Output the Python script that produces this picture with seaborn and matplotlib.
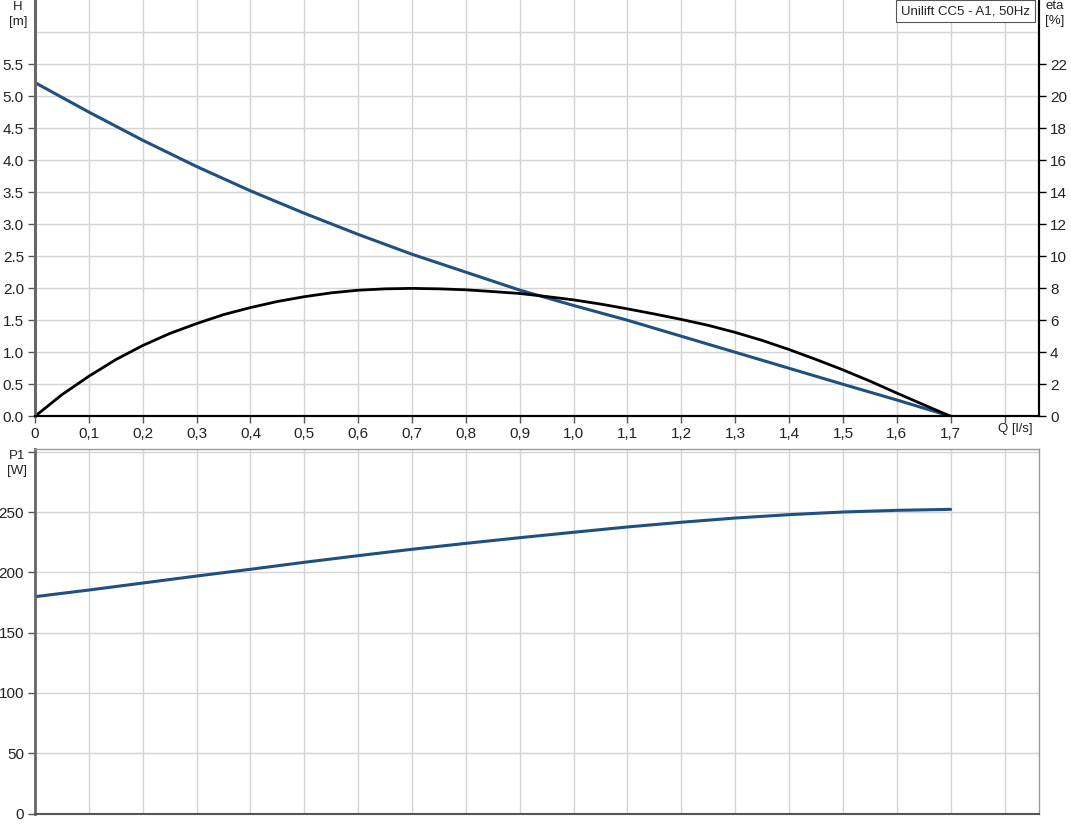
import numpy as np
import pandas as pd
import matplotlib.pyplot as plt
import matplotlib.transforms as mtrans
import seaborn as sns

# flow steps [l/s]
q = [0.0, 0.1, 0.2, 0.3, 0.4, 0.5, 0.6, 0.7, 0.8, 0.9,
     1.0, 1.1, 1.2, 1.3, 1.4, 1.5, 1.6, 1.7]
# head [m]
head = [5.21, 4.75, 4.31, 3.90, 3.52, 3.17, 2.84, 2.53, 2.25, 1.97,
        1.73, 1.50, 1.25, 1.00, 0.75, 0.50, 0.255, 0.0]
# efficiency [%], read every 0.05 l/s
q_eta = [0.0, 0.05, 0.1, 0.15, 0.2, 0.25, 0.3, 0.35, 0.4, 0.45, 0.5, 0.55,
         0.6, 0.65, 0.7, 0.75, 0.8, 0.85, 0.9, 0.95, 1.0, 1.05, 1.1, 1.15,
         1.2, 1.25, 1.3, 1.35, 1.4, 1.45, 1.5, 1.55, 1.6, 1.65, 1.7]
eta = [0.0, 1.35, 2.5, 3.54, 4.42, 5.17, 5.79, 6.35, 6.79, 7.17, 7.47, 7.71,
       7.875, 7.96, 7.99, 7.96, 7.9, 7.79, 7.67, 7.48, 7.27, 7.01, 6.71, 6.39,
       6.05, 5.68, 5.24, 4.74, 4.17, 3.55, 2.9, 2.2, 1.45, 0.72, 0.0]
# power P1 [W]
p1 = [179.8, 185.3, 191.1, 196.9, 202.5, 208.3, 213.8, 219.1, 224.0, 228.7,
      233.2, 237.6, 241.5, 245.0, 247.8, 250.0, 251.4, 252.2]

x_ticks = [0.0, 0.1, 0.2, 0.3, 0.4, 0.5, 0.6, 0.7, 0.8, 0.9,
           1.0, 1.1, 1.2, 1.3, 1.4, 1.5, 1.6, 1.7, 1.8]
x_labels = ['0', '0,1', '0,2', '0,3', '0,4', '0,5', '0,6', '0,7', '0,8', '0,9',
            '1,0', '1,1', '1,2', '1,3', '1,4', '1,5', '1,6', '1,7', '']
h_ticks = [0.0, 0.5, 1.0, 1.5, 2.0, 2.5, 3.0, 3.5, 4.0, 4.5, 5.0, 5.5]
eta_ticks = [0, 2, 4, 6, 8, 10, 12, 14, 16, 18, 20, 22]
p_ticks = [0, 50, 100, 150, 200, 250, 300]

BLUE = '#1f5082'
GRID = '#d4d4d4'
TXT = '#222222'

sns.set_theme(style='white')
plt.rcParams['font.family'] = ['Liberation Sans', 'DejaVu Sans']
plt.rcParams['font.size'] = 9.5

df_h = pd.DataFrame({'Q': q, 'H': head})
df_eta = pd.DataFrame({'Q': q_eta, 'eta': eta})
df_p = pd.DataFrame({'Q': q, 'P1': p1})

fig = plt.figure(figsize=(10.71, 8.33), dpi=100)
W, H = 1071, 833
ax1 = fig.add_axes([35 / W, 1 - 416.3 / H, 1004 / W, 416.3 / H])
ax2 = ax1.twinx()
ax3 = fig.add_axes([35 / W, 1 - 813.5 / H, 1004 / W, 364.2 / H])

xmax = 1.864

# top chart: H and eta
ax1.set_xlim(0, xmax)
ax1.set_ylim(0, 6.5)
ax2.set_ylim(0, 26)
ax1.grid(True, color=GRID, lw=1)
ax1.axhline(6.0, color=GRID, lw=1, zorder=0)
ax1.set_axisbelow(True)

sns.lineplot(data=df_h, x='Q', y='H', ax=ax1, color=BLUE, lw=2.2)
sns.lineplot(data=df_eta, x='Q', y='eta', ax=ax2, color='black', lw=2.0)

ax1.set_xticks(x_ticks)
ax1.set_xticklabels(x_labels)
ax1.set_yticks(h_ticks)
ax1.set_yticklabels(['%.1f' % v for v in h_ticks])
ax2.set_yticks(eta_ticks)
ax2.set_yticklabels([str(v) for v in eta_ticks])
for a in (ax1, ax2):
    a.set_xlabel('')
    a.set_ylabel('')
ax1.tick_params(axis='both', direction='out', length=5, width=1, color='#555555',
                labelcolor=TXT, pad=3, left=True, bottom=True)
ax2.tick_params(axis='y', direction='out', length=5, width=1, color='black',
                labelcolor=TXT, pad=3, right=True)

for a in (ax1, ax2):
    a.spines['top'].set_visible(False)
    a.spines['left'].set_color('#666666')
    a.spines['left'].set_linewidth(2)
    a.spines['bottom'].set_color('black')
    a.spines['bottom'].set_linewidth(1.5)
    a.spines['right'].set_color('black')
    a.spines['right'].set_linewidth(1.5)

# axis name in place of the 1.8 tick label
qtrans = (mtrans.blended_transform_factory(ax1.transData, fig.transFigure)
          + mtrans.ScaledTranslation(-7 / 100, 0, fig.dpi_scale_trans))
ax1.text(1.8, 1 - 429 / H, 'Q [l/s]', transform=qtrans,
         ha='left', va='center', color=TXT, fontsize=9.5)

fig.text(18 / W, 1 - 7 / H, 'H', ha='center', va='center', color=TXT)
fig.text(18 / W, 1 - 22 / H, '[m]', ha='center', va='center', color=TXT)
fig.text(1055 / W, 1 - 6 / H, 'eta', ha='center', va='center', color=TXT)
fig.text(1055 / W, 1 - 21 / H, '[%]', ha='center', va='center', color=TXT)

ax1.text(901 / W, 1 - 11 / H, 'Unilift CC5 - A1, 50Hz', transform=fig.transFigure,
         ha='left', va='center', color=TXT, fontsize=9.5, zorder=10,
         bbox=dict(boxstyle='square,pad=0.38', fc='white', ec='#555555', lw=0.8))

# bottom chart: P1
ax3.set_xlim(0, xmax)
ax3.set_ylim(0, 302)
ax3.grid(True, color=GRID, lw=1)
ax3.set_axisbelow(True)
sns.lineplot(data=df_p, x='Q', y='P1', ax=ax3, color=BLUE, lw=2.2)
ax3.set_xlabel('')
ax3.set_ylabel('')
ax3.set_xticks(x_ticks)
ax3.set_xticklabels([])
ax3.tick_params(axis='x', length=0, bottom=False)
ax3.set_yticks(p_ticks)
ax3.set_yticklabels([str(v) for v in p_ticks[:-1]] + [''])
ax3.tick_params(axis='y', direction='out', length=5, width=1, color='#555555',
                labelcolor=TXT, pad=3, left=True)
ax3.spines['left'].set_color('#666666')
ax3.spines['left'].set_linewidth(2)
ax3.spines['bottom'].set_color('#555555')
ax3.spines['bottom'].set_linewidth(1.5)
ax3.spines['top'].set_color('#9a9a9a')
ax3.spines['top'].set_linewidth(1)
ax3.spines['right'].set_color('#9a9a9a')
ax3.spines['right'].set_linewidth(1)

fig.text(17 / W, 1 - 456 / H, 'P1', ha='center', va='center', color=TXT)
fig.text(17 / W, 1 - 471 / H, '[W]', ha='center', va='center', color=TXT)

fig.savefig('out.png', dpi=100)
